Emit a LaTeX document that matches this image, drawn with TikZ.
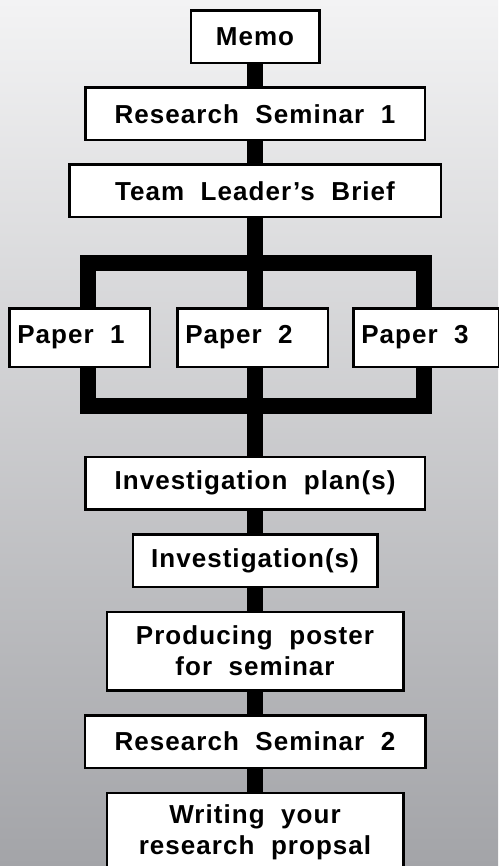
\documentclass[tikz,border=0pt]{standalone}
\usepackage{fontspec}
\setmainfont{Liberation Sans}[LetterSpace=4,WordSpace=2]
\usetikzlibrary{chains}
\definecolor{bgtop}{RGB}{243,243,244}
\definecolor{bgbot}{RGB}{163,164,168}

\begin{document}
\begin{tikzpicture}[x=1pt,y=-1pt,
  bx/.style={draw,fill=white,line width=2.5pt,minimum height=52.5pt,
    font=\fontsize{26}{31}\selectfont\bfseries,align=center},
  bar/.style={draw,line width=16pt},
  paper/.style={bx,minimum height=58.5pt,inner xsep=8pt}]
\fill[top color=bgtop,bottom color=bgbot] (0,0) rectangle (498,866);
\useasboundingbox (0,0) rectangle (498,866);
% top column
\path[start chain=T going below,node distance=22pt,nodes={on chain,join=by bar,bx}]
    node[at={(255,37)},minimum width=128.5pt](memo){Memo}
    node[minimum width=339.5pt](sem1){Research Seminar 1}
    node[minimum width=371.5pt](brief){Team Leader’s Brief};
% the three papers
\node[paper,at={(79.5,337.5)}](p1){\makebox[124.5pt][l]{Paper 1}};
\node[paper,at={(252.5,337.5)}](p2){\makebox[134.5pt][l]{Paper 2}};
\node[paper,at={(426,337.5)}](p3){\makebox[129.5pt][l]{Paper 3}};
% bottom column
\path[start chain=B going below,node distance=22.5pt,nodes={on chain,join=by bar,bx}]
    node[at={(255,483)},minimum width=339.5pt](plan){Investigation plan(s)}
    node[minimum width=244.5pt](inv){Investigation(s)}
    node[minimum width=296.5pt,minimum height=78.5pt](poster){Producing poster\\for seminar}
    node[minimum width=340.5pt](sem2){Research Seminar 2}
    node[minimum width=296.5pt,minimum height=78.5pt](write){Writing your\\research propsal};
% split and merge bars
\coordinate (tl) at (88,263);
\coordinate (tr) at (424,263);
\coordinate (bl) at (88,406);
\coordinate (br) at (424,406);
\draw[bar] (brief) -- (brief |- tl);
\draw[bar] (p1.north -| tl) -- (tl) -- (tr) -- (p3.north -| tr);
\draw[bar] (brief |- tl) -- (brief |- p2.north);
\draw[bar] (p1.south -| bl) -- (bl) -- (br) -- (p3.south -| br);
\draw[bar] (brief |- p2.south) -- (plan);
\end{tikzpicture}
\end{document}
